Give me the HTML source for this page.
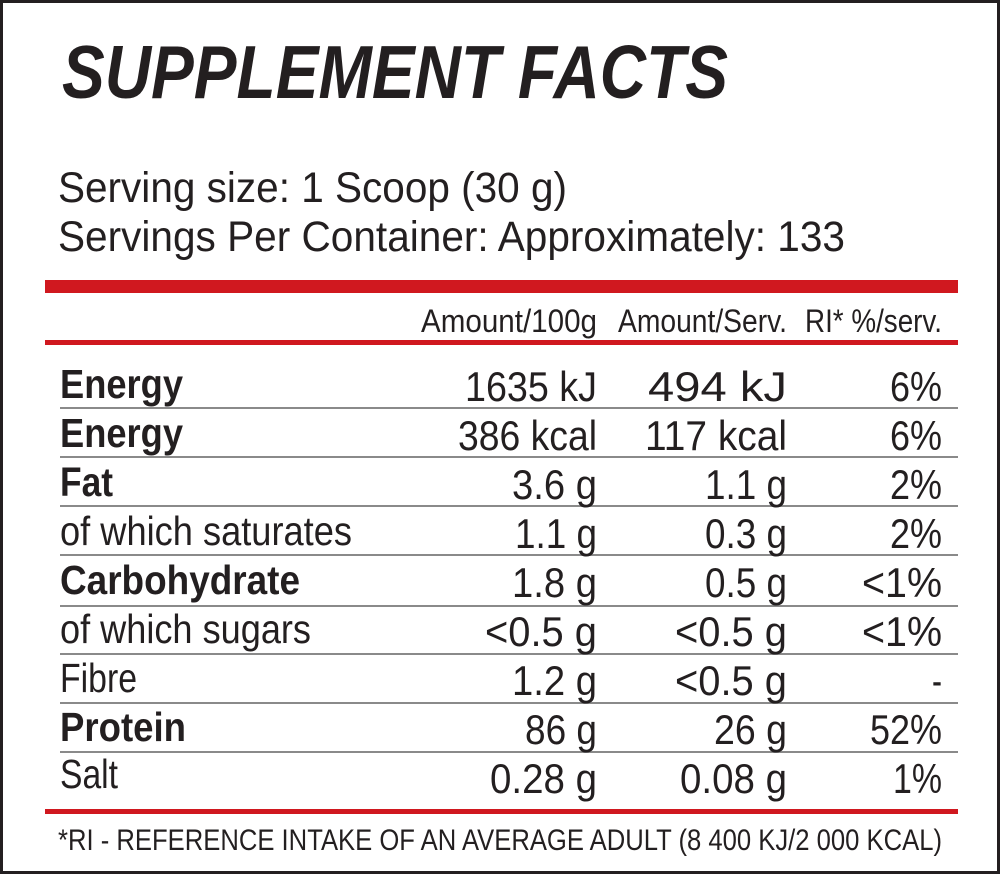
<!DOCTYPE html>
<html><head><meta charset="utf-8"><style>
html,body{margin:0;padding:0;background:#fff}
svg{display:block}
text{font-family:"Liberation Sans Narrow","Liberation Sans",sans-serif;fill:#231f20}
.b{font-weight:bold}
</style></head><body>
<svg width="1000" height="874" viewBox="0 0 1000 874" xmlns="http://www.w3.org/2000/svg">
<rect x="1.5" y="1.5" width="997" height="871" fill="#fff" stroke="#231f20" stroke-width="3"/>
<text x="62" y="98" font-size="75" font-weight="bold" font-style="italic" textLength="666" lengthAdjust="spacingAndGlyphs">SUPPLEMENT FACTS</text>
<text x="58" y="202" font-size="43" textLength="509" lengthAdjust="spacingAndGlyphs">Serving size: 1 Scoop (30 g)</text>
<text x="58" y="251" font-size="43" textLength="787" lengthAdjust="spacingAndGlyphs">Servings Per Container: Approximately: 133</text>
<rect x="45" y="280" width="913" height="13" fill="#d0181f"/>
<text x="597" y="332" font-size="32" text-anchor="end" textLength="176" lengthAdjust="spacingAndGlyphs">Amount/100g</text>
<text x="787" y="332" font-size="32" text-anchor="end" textLength="169" lengthAdjust="spacingAndGlyphs">Amount/Serv.</text>
<text x="942" y="332" font-size="32" text-anchor="end" textLength="137" lengthAdjust="spacingAndGlyphs">RI* %/serv.</text>
<rect x="45" y="340" width="913" height="5" fill="#d0181f"/>
<g fill="#8a8a8a">
<rect x="60" y="407" width="898" height="2"/>
<rect x="60" y="456" width="898" height="2"/>
<rect x="60" y="505" width="898" height="2"/>
<rect x="60" y="554" width="898" height="2"/>
<rect x="60" y="605" width="898" height="2"/>
<rect x="60" y="653" width="898" height="2"/>
<rect x="60" y="702" width="898" height="2"/>
<rect x="60" y="751" width="898" height="2"/>
</g>
<g font-size="41">
<text x="60" y="398" class="b" textLength="123" lengthAdjust="spacingAndGlyphs">Energy</text>
<text x="60" y="447" class="b" textLength="123" lengthAdjust="spacingAndGlyphs">Energy</text>
<text x="60" y="496" class="b" textLength="53" lengthAdjust="spacingAndGlyphs">Fat</text>
<text x="60" y="545" textLength="292" lengthAdjust="spacingAndGlyphs">of which saturates</text>
<text x="60" y="594" class="b" textLength="240" lengthAdjust="spacingAndGlyphs">Carbohydrate</text>
<text x="60" y="643" textLength="251" lengthAdjust="spacingAndGlyphs">of which sugars</text>
<text x="60" y="692" textLength="77" lengthAdjust="spacingAndGlyphs">Fibre</text>
<text x="60" y="741" class="b" textLength="126" lengthAdjust="spacingAndGlyphs">Protein</text>
<text x="60" y="788" textLength="58" lengthAdjust="spacingAndGlyphs">Salt</text>
</g>
<g font-size="42" text-anchor="end">
<text x="597" y="401" textLength="132" lengthAdjust="spacingAndGlyphs">1635 kJ</text>
<text x="787" y="401" textLength="139" lengthAdjust="spacingAndGlyphs">494 kJ</text>
<text x="942" y="401" textLength="52" lengthAdjust="spacingAndGlyphs">6%</text>
<text x="597" y="450" textLength="139" lengthAdjust="spacingAndGlyphs">386 kcal</text>
<text x="787" y="450" textLength="142" lengthAdjust="spacingAndGlyphs">117 kcal</text>
<text x="942" y="450" textLength="52" lengthAdjust="spacingAndGlyphs">6%</text>
<text x="597" y="499" textLength="85" lengthAdjust="spacingAndGlyphs">3.6 g</text>
<text x="787" y="499" textLength="82" lengthAdjust="spacingAndGlyphs">1.1 g</text>
<text x="942" y="499" textLength="52" lengthAdjust="spacingAndGlyphs">2%</text>
<text x="597" y="548" textLength="82" lengthAdjust="spacingAndGlyphs">1.1 g</text>
<text x="787" y="548" textLength="82" lengthAdjust="spacingAndGlyphs">0.3 g</text>
<text x="942" y="548" textLength="52" lengthAdjust="spacingAndGlyphs">2%</text>
<text x="597" y="597" textLength="85" lengthAdjust="spacingAndGlyphs">1.8 g</text>
<text x="787" y="597" textLength="82" lengthAdjust="spacingAndGlyphs">0.5 g</text>
<text x="942" y="597" textLength="80" lengthAdjust="spacingAndGlyphs">&lt;1%</text>
<text x="597" y="646" textLength="112" lengthAdjust="spacingAndGlyphs">&lt;0.5 g</text>
<text x="787" y="646" textLength="112" lengthAdjust="spacingAndGlyphs">&lt;0.5 g</text>
<text x="942" y="646" textLength="80" lengthAdjust="spacingAndGlyphs">&lt;1%</text>
<text x="597" y="695" textLength="85" lengthAdjust="spacingAndGlyphs">1.2 g</text>
<text x="787" y="695" textLength="112" lengthAdjust="spacingAndGlyphs">&lt;0.5 g</text>
<text x="942" y="695" textLength="10" lengthAdjust="spacingAndGlyphs">-</text>
<text x="597" y="744" textLength="72" lengthAdjust="spacingAndGlyphs">86 g</text>
<text x="787" y="744" textLength="73" lengthAdjust="spacingAndGlyphs">26 g</text>
<text x="942" y="744" textLength="72" lengthAdjust="spacingAndGlyphs">52%</text>
<text x="597" y="793" textLength="107" lengthAdjust="spacingAndGlyphs">0.28 g</text>
<text x="787" y="793" textLength="107" lengthAdjust="spacingAndGlyphs">0.08 g</text>
<text x="942" y="793" textLength="49" lengthAdjust="spacingAndGlyphs">1%</text>
</g>
<rect x="45" y="809" width="913" height="5" fill="#d0181f"/>
<text x="58" y="850" font-size="30" fill="#333" textLength="884" lengthAdjust="spacingAndGlyphs">*RI - REFERENCE INTAKE OF AN AVERAGE ADULT (8 400 KJ/2 000 KCAL)</text>
</svg>
</body></html>
